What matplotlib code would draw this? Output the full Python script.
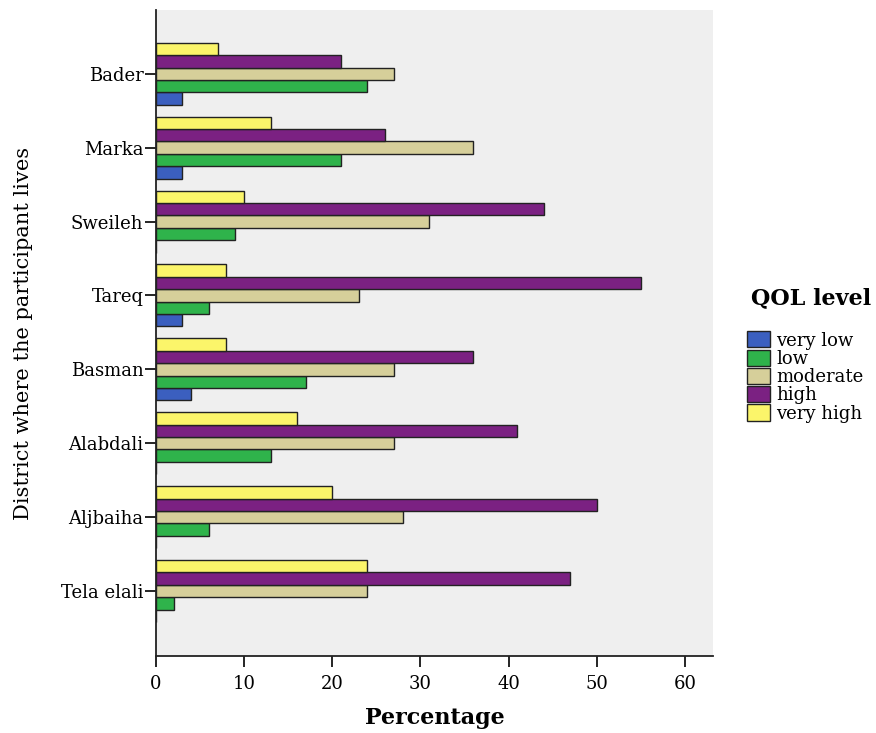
import numpy as np
import matplotlib
matplotlib.use("Agg")
import matplotlib.pyplot as plt
from matplotlib.patches import Patch

plt.rcParams['font.family'] = ['DejaVu Serif']

districts = ["Bader", "Marka", "Sweileh", "Tareq", "Basman", "Alabdali", "Aljbaiha", "Tela elali"]
levels = ["very low", "low", "moderate", "high", "very high"]

very_low = [3, 3, 0, 3, 4, 0, 0, 0]
low = [24, 21, 9, 6, 17, 13, 6, 2]
moderate = [27, 36, 31, 23, 27, 27, 28, 24]
high = [21, 26, 44, 55, 36, 41, 50, 47]
very_high = [7, 13, 10, 8, 8, 16, 20, 24]

series = [very_low, low, moderate, high, very_high]
colors = ["#3b5fbf", "#2fb34b", "#d6cf9a", "#7b2182", "#fbf56a"]

fig = plt.figure(figsize=(8.76, 7.33), dpi=100)
ax = fig.add_axes([0.178, 0.105, 0.636, 0.881])
ax.set_facecolor("#efefef")

y = np.arange(len(districts))
h = 0.168
# very low at bottom of each group, very high at top
for k, (vals, col) in enumerate(zip(series, colors)):
    ax.barh(y + (2 - k) * h, vals, height=h, color=col,
            edgecolor="#222222", linewidth=1.0, label=levels[k])

ax.set_ylim(len(districts) - 1 + 0.88, -0.86)
ax.set_xlim(0, 63.2)
ax.set_yticks(y)
ax.set_yticklabels(districts, fontsize=13)
ax.set_xticks(np.arange(0, 61, 10))
ax.tick_params(axis='x', labelsize=13, length=8, width=1.2, direction='out', pad=6)
ax.tick_params(axis='y', length=8, width=1.2, direction='out', pad=1)

for s in ["top", "right"]:
    ax.spines[s].set_visible(False)
for s in ["left", "bottom"]:
    ax.spines[s].set_linewidth(1.3)
    ax.spines[s].set_color("#222222")

ax.set_xlabel("Percentage", fontsize=16, fontweight="bold", labelpad=10)
ax.set_ylabel("District where the participant lives", fontsize=15, labelpad=20)

# legend title placed separately to leave a gap above the entries
fig.text(0.857, 0.593, "QOL level", fontsize=16, fontweight="bold", va="center", ha="left")
handles = [Patch(facecolor=c, edgecolor="#222222", label=l) for c, l in zip(colors, levels)]
leg = fig.legend(handles=handles, loc="upper left", bbox_to_anchor=(0.853, 0.548),
                 fontsize=13, frameon=False, borderpad=0,
                 handlelength=1.25, handleheight=1.0, handletextpad=0.35,
                 labelspacing=0.0, borderaxespad=0)

fig.savefig("out.png", dpi=100)
